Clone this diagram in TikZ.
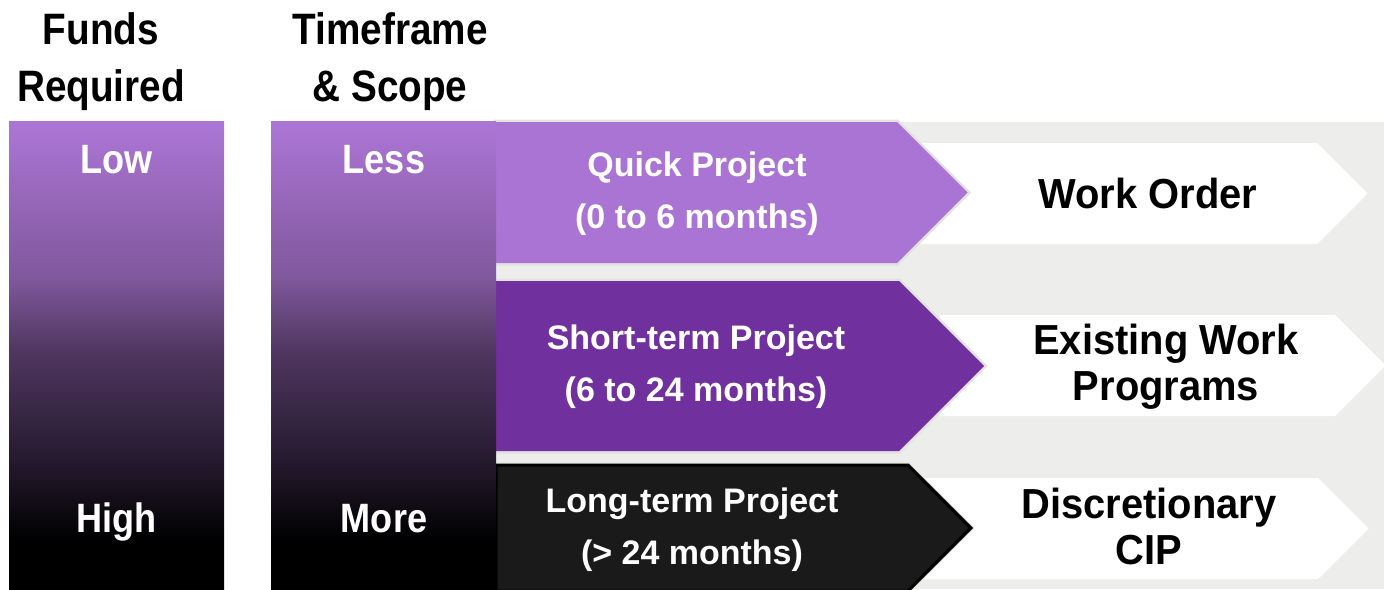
\documentclass[tikz,border=0pt]{standalone}
\usepackage{fontspec}
\setmainfont{Liberation Sans}
\newfontfamily\hdrfont{Liberation Sans}[FakeStretch=0.88]
\newfontfamily\whtfont{Liberation Sans}[FakeStretch=0.95]
\definecolor{bTop}{RGB}{172,118,214}
\definecolor{bD}{RGB}{128,88,156}
\definecolor{bC}{RGB}{78,54,95}
\definecolor{bB}{RGB}{40,28,50}
\definecolor{bggray}{RGB}{237,237,235}
\definecolor{edgegray}{RGB}{226,226,223}
\definecolor{arrA}{RGB}{170,116,212}
\definecolor{arrB}{RGB}{112,48,157}
\definecolor{arrC}{RGB}{26,26,26}
\pgfdeclareverticalshading{barshade}{100bp}{color(0bp)=(black); color(25bp)=(black); color(30.2bp)=(black); color(39.5bp)=(bB); color(50.2bp)=(bC); color(58.3bp)=(bD); color(75bp)=(bTop); color(100bp)=(bTop)}
\tikzset{
  hdr/.style={font=\hdrfont\bfseries\fontsize{44}{57}\selectfont, align=center, inner sep=0pt, text=black},
  bartxt/.style={font=\hdrfont\bfseries\fontsize{41}{48}\selectfont, inner sep=0pt, text=white, anchor=base},
  arrtxt/.style={font=\bfseries\fontsize{34}{52}\selectfont, align=center, inner sep=0pt, text=white},
  wtxt/.style={font=\whtfont\bfseries\fontsize{42}{46}\selectfont, align=center, inner sep=0pt, text=black},
  halo/.style={draw=edgegray, line width=5pt, line join=miter},
}
\begin{document}
\begin{tikzpicture}[x=1pt,y=-1pt]
\useasboundingbox (0,0) rectangle (1384,589);
% gray background
\fill[bggray] (496,122) rectangle (1384,589);
% white result arrows
\fill[white] (920,143) -- (1317,143) -- (1367.5,193.5) -- (1317,244) -- (920,244) -- cycle;
\fill[white] (940,315) -- (1335,315) -- (1385.5,365.5) -- (1335,416) -- (940,416) -- cycle;
\fill[white] (920,478) -- (1318,478) -- (1368.5,528.5) -- (1318,579) -- (920,579) -- cycle;
% coloured project arrows
\draw[halo] (496,122) -- (897,122) -- (967.5,192.5) -- (897,263) -- (496,263) -- cycle;
\fill[arrA] (496,122) -- (897,122) -- (967.5,192.5) -- (897,263) -- (496,263) -- cycle;
\draw[halo] (496,281) -- (899,281) -- (984,366) -- (899,451) -- (496,451) -- cycle;
\fill[arrB] (496,281) -- (899,281) -- (984,366) -- (899,451) -- (496,451) -- cycle;
\draw[halo] (496,465) -- (908,465) -- (971,528) -- (908,591) -- (496,591) -- cycle;
\filldraw[fill=arrC, draw=black, line width=3pt, line join=miter] (496,465) -- (908,465) -- (971,528) -- (908,591) -- (496,591) -- cycle;
% gradient bars
\shade[shading=barshade] (9,121) rectangle (224,589);
\shade[shading=barshade] (271,121) rectangle (496,589);
% headers
\node[hdr] (funds) at (101,62) {Funds\\Required};
\node[hdr] (time) at (390,62) {Timeframe\\\& Scope};
% bar labels
\node[bartxt] (low) at (116.5,173) {Low};
\node[bartxt] (high) at (116.5,532) {High};
\node[bartxt] (less) at (384,173) {Less};
\node[bartxt] (more) at (384,532) {More};
% project labels
\node[arrtxt] (quick) at (697,193.5) {Quick Project\\(0 to 6 months)};
\node[arrtxt] (short) at (696,367) {Short-term Project\\(6 to 24 months)};
\node[arrtxt] (long) at (692,529.5) {Long-term Project\\(> 24 months)};
% outcome labels
\node[wtxt, anchor=base] (wo) at (1148,208) {Work Order};
\node[wtxt] (ewp) at (1166,366.5) {Existing Work\\Programs};
\node[wtxt] (dcip) at (1149,526) {Discretionary\\CIP};
\end{tikzpicture}
\end{document}
